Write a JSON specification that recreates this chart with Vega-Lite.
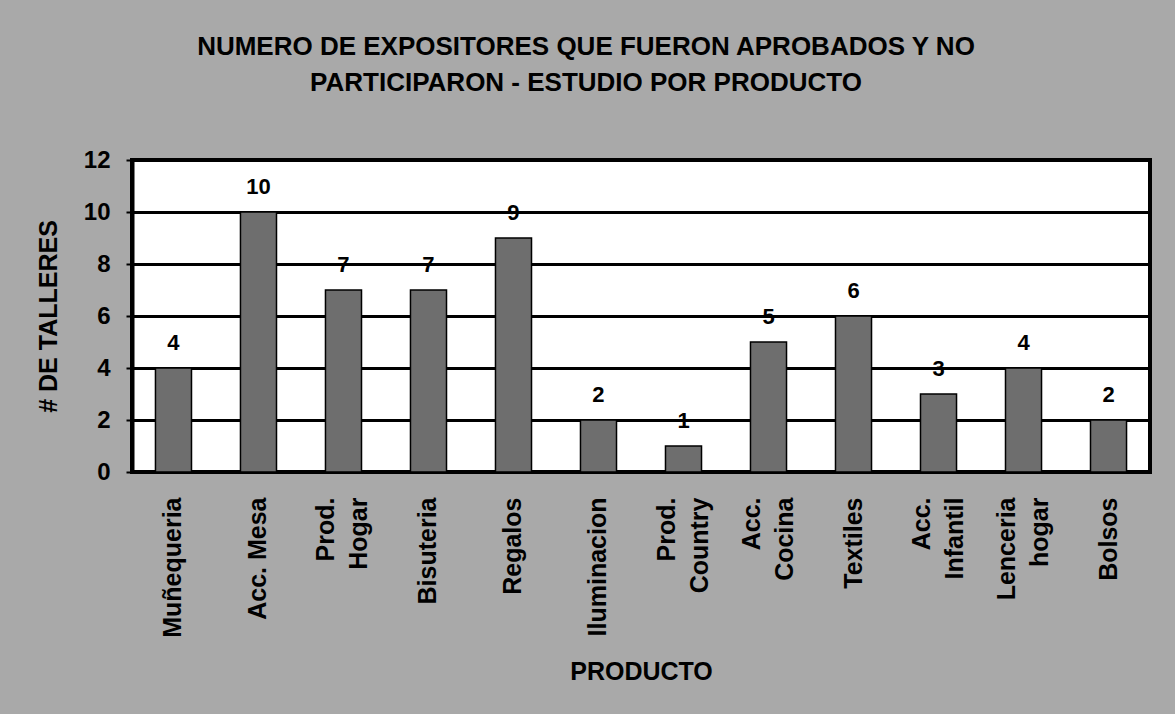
{
  "$schema": "https://vega.github.io/schema/vega-lite/v6.json",
  "width": 1018,
  "height": 312,
  "autosize": {"type": "none"},
  "padding": {"left": 132, "top": 160, "right": 25, "bottom": 242},
  "background": "#a9a9a9",
  "title": {
    "text": ["NUMERO DE EXPOSITORES QUE FUERON APROBADOS Y NO", "PARTICIPARON - ESTUDIO POR PRODUCTO"],
    "font": "Liberation Sans",
    "fontSize": 26,
    "fontWeight": "bold",
    "color": "#000000",
    "lineHeight": 36,
    "anchor": "middle",
    "frame": "group",
    "dx": -55,
    "offset": 52
  },
  "config": {
    "view": {"fill": "#ffffff", "stroke": "#000000", "strokeWidth": 4},
    "axis": {
      "labelFont": "Liberation Sans",
      "titleFont": "Liberation Sans",
      "labelFontWeight": "bold",
      "titleFontWeight": "bold",
      "labelColor": "#000000",
      "titleColor": "#000000"
    }
  },
  "data": {
    "values": [
      {"producto": "Muñequeria", "talleres": 4},
      {"producto": "Acc. Mesa", "talleres": 10},
      {"producto": "Prod. Hogar", "talleres": 7},
      {"producto": "Bisuteria", "talleres": 7},
      {"producto": "Regalos", "talleres": 9},
      {"producto": "Iluminacion", "talleres": 2},
      {"producto": "Prod. Country", "talleres": 1},
      {"producto": "Acc. Cocina", "talleres": 5},
      {"producto": "Textiles", "talleres": 6},
      {"producto": "Acc. Infantil", "talleres": 3},
      {"producto": "Lenceria hogar", "talleres": 4},
      {"producto": "Bolsos", "talleres": 2}
    ]
  },
  "encoding": {
    "x": {
      "field": "producto",
      "type": "nominal",
      "sort": null,
      "scale": {"paddingInner": 0.576, "paddingOuter": 0.276},
      "axis": {
        "title": "PRODUCTO",
        "titleFontSize": 25,
        "titlePadding": 22,
        "labelAngle": -90,
        "labelFontSize": 25,
        "labelPadding": 25,
        "labelLineHeight": 33,
        "labelExpr": "datum.label == 'Acc. Mesa' ? datum.label : split(datum.label, ' ')",
        "labelOffset": {"condition": {"test": "indexof(datum.value, ' ') >= 0 && datum.value != 'Acc. Mesa'", "value": -17}, "value": 0},
        "ticks": false,
        "domain": false,
        "labelLimit": 400
      }
    },
    "y": {
      "field": "talleres",
      "type": "quantitative",
      "scale": {"domain": [0, 12], "nice": false},
      "axis": {
        "title": "# DE TALLERES",
        "titleFontSize": 25,
        "titlePadding": 22,
        "values": [0, 2, 4, 6, 8, 10, 12],
        "labelFontSize": 24,
        "labelPadding": 16,
        "tickSize": 6,
        "tickWidth": 2,
        "tickColor": "#000000",
        "domainColor": "#000000",
        "domainWidth": 4,
        "grid": true,
        "gridColor": "#000000",
        "gridWidth": 3,
        "gridOpacity": 1
      }
    }
  },
  "layer": [
    {
      "mark": {"type": "bar", "fill": "#6e6e6e", "stroke": "#000000", "strokeWidth": 1.5}
    },
    {
      "mark": {
        "type": "text",
        "font": "Liberation Sans",
        "fontSize": 22,
        "fontWeight": "bold",
        "color": "#000000",
        "baseline": "alphabetic",
        "dy": -18
      },
      "encoding": {"text": {"field": "talleres", "type": "quantitative"}}
    }
  ]
}
